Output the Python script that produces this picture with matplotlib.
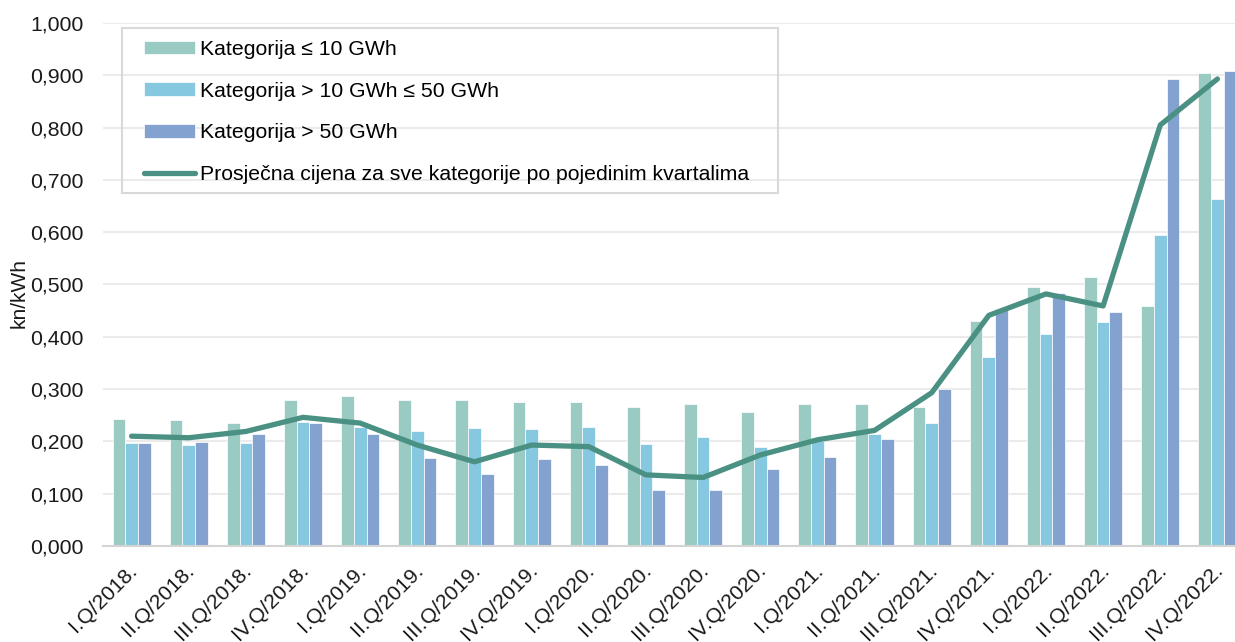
import matplotlib
matplotlib.use("Agg")
import matplotlib.pyplot as plt
import numpy as np
from matplotlib.ticker import FuncFormatter, MultipleLocator
from matplotlib.patches import Rectangle
import matplotlib.transforms as mtransforms

plt.rcParams['font.family'] = ['Liberation Sans', 'DejaVu Sans']

categories = ["I.Q/2018.", "II.Q/2018.", "III.Q/2018.", "IV.Q/2018.",
              "I.Q/2019.", "II.Q/2019.", "III.Q/2019.", "IV.Q/2019.",
              "I.Q/2020.", "II.Q/2020.", "III.Q/2020.", "IV.Q/2020.",
              "I.Q/2021.", "II.Q/2021.", "III.Q/2021.", "IV.Q/2021.",
              "I.Q/2022.", "II.Q/2022.", "III.Q/2022.", "IV.Q/2022."]

kat_10 = [0.243, 0.240, 0.236, 0.280, 0.286, 0.280, 0.279, 0.275, 0.275, 0.266,
          0.272, 0.257, 0.272, 0.272, 0.265, 0.430, 0.495, 0.514, 0.458, 0.904]
kat_10_50 = [0.197, 0.194, 0.197, 0.238, 0.228, 0.219, 0.226, 0.223, 0.228, 0.195,
             0.208, 0.189, 0.200, 0.214, 0.235, 0.361, 0.405, 0.429, 0.594, 0.663]
kat_50 = [0.196, 0.199, 0.215, 0.235, 0.214, 0.168, 0.138, 0.167, 0.154, 0.108,
          0.107, 0.147, 0.171, 0.205, 0.300, 0.453, 0.483, 0.448, 0.892, 0.909]
prosjek = [0.210, 0.207, 0.219, 0.246, 0.235, 0.193, 0.161, 0.193, 0.190, 0.136,
           0.131, 0.174, 0.203, 0.221, 0.293, 0.441, 0.482, 0.459, 0.805, 0.893]

labels = ["Kategorija \u2264 10 GWh", "Kategorija > 10 GWh \u2264 50 GWh",
          "Kategorija > 50 GWh", "Prosje\u010dna cijena za sve kategorije po pojedinim kvartalima"]

c1, c2, c3, cl = "#9acbc3", "#86c8e0", "#84a2cf", "#4a9184"
FS = 15.3

W, H = 1235, 642
fig = plt.figure(figsize=(W / 100, H / 100), dpi=100)
left, right, top, bottom = 103, 1235, 23, 546
ax = fig.add_axes([left / W, 1 - bottom / H, (right - left) / W, (bottom - top) / H])

x = np.arange(len(categories))
bw = 0.222
b1 = ax.bar(x - bw, kat_10, bw, color=c1, edgecolor="white", linewidth=0.5, label=labels[0], zorder=2)
b2 = ax.bar(x, kat_10_50, bw, color=c2, edgecolor="white", linewidth=0.5, label=labels[1], zorder=2)
b3 = ax.bar(x + bw, kat_50, bw, color=c3, edgecolor="white", linewidth=0.5, label=labels[2], zorder=2)
ln, = ax.plot(x, prosjek, color=cl, linewidth=3.8, solid_capstyle="round", label=labels[3], zorder=3)

ax.set_ylim(0, 1.0)
ax.set_xlim(-0.5, 19.5 - 11 / 57.16)
ax.yaxis.set_major_locator(MultipleLocator(0.1))
ax.yaxis.set_major_formatter(FuncFormatter(lambda v, p: f"{v:.3f}".replace(".", ",")))
ax.grid(axis="y", color="#ebebeb", linewidth=1.5, zorder=0)
ax.set_axisbelow(True)
for s in ["top", "right", "left"]:
    ax.spines[s].set_visible(False)
ax.spines["bottom"].set_color("#d4d4d4")
ax.spines["bottom"].set_linewidth(1.5)
ax.tick_params(axis="y", length=0, pad=14, labelsize=FS, labelcolor="#1a1a1a")
ax.tick_params(axis="x", length=0, pad=9, labelsize=FS, labelcolor="#1a1a1a")
ax.set_xticks(x)
ax.set_xticklabels(categories, rotation=45, ha="right", va="top", rotation_mode="anchor")
offset = mtransforms.ScaledTranslation(-4 / 100, -2 / 100, fig.dpi_scale_trans)
for lab in ax.get_xticklabels():
    lab.set_transform(lab.get_transform() + offset)

ax.set_ylabel("kn/kWh", fontsize=15, color="#1a1a1a")
ax.yaxis.set_label_coords(-0.066, 0.484)

leg = ax.legend(handles=[b1, b2, b3, ln], labels=labels, loc="upper left",
                bbox_to_anchor=((148 - left - 4) / (right - left), (bottom - 40) / (bottom - top)),
                frameon=False, fontsize=FS, handlelength=2.42, handleheight=0.6,
                handletextpad=0.23, labelspacing=1.07, borderpad=0, borderaxespad=0)
fig.patches.append(Rectangle((122 / W, 1 - 193 / H), (778 - 122) / W, (193 - 28) / H,
                             transform=fig.transFigure, fill=False,
                             edgecolor="#d9d9d9", linewidth=1.5, zorder=5))

fig.savefig("out.png", dpi=100)
